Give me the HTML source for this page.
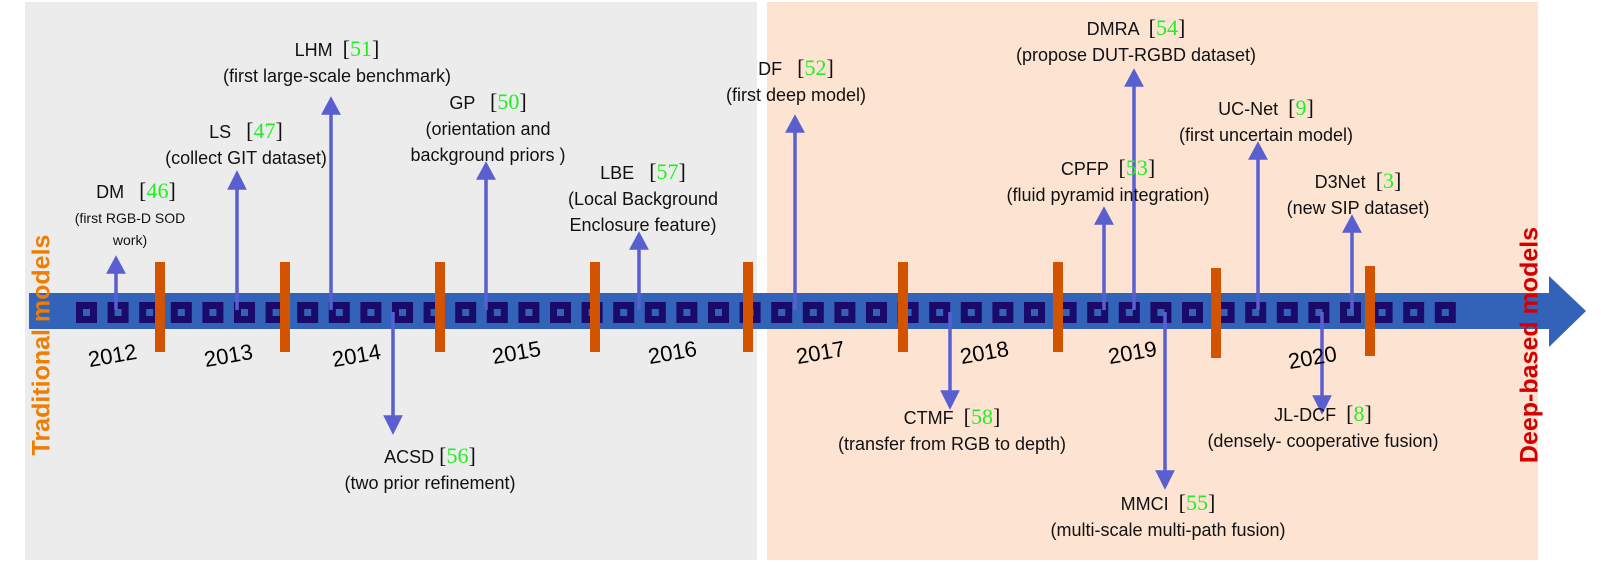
<!DOCTYPE html>
<html><head><meta charset="utf-8"><style>
html,body{margin:0;padding:0;overflow:hidden;width:1601px;height:581px}
#w{position:relative;width:1601px;height:581px;overflow:hidden;background:#fff;font-family:"Liberation Sans",sans-serif;}
.a{position:absolute}
.t{position:absolute;transform:translateX(-50%);text-align:center;white-space:nowrap;font-size:18px;line-height:26px;color:#111}
.c{font-family:"Liberation Serif",serif;font-size:22px;color:#111}
.c b{font-weight:normal;color:#22ee22}
.y{position:absolute;font-size:22px;transform:rotate(-10deg);color:#000}
</style></head><body><div id="w">
<div class="a" style="left:25px;top:2px;width:732px;height:558px;background:#ececec"></div>
<div class="a" style="left:767px;top:2px;width:771px;height:558px;background:#fde4d2"></div>
<svg class="a" style="left:0;top:0" width="1601" height="581">
<rect x="29" y="293" width="1522" height="36" fill="#3363b9"/>
<polygon points="1549,276 1586,311 1549,347" fill="#3363b9"/>
<g id="sq"></g>
<g fill="#d35400">
<rect x="155" y="262" width="10" height="90"/><rect x="280" y="262" width="10" height="90"/><rect x="435" y="262" width="10" height="90"/><rect x="590" y="262" width="10" height="90"/><rect x="743" y="262" width="10" height="90"/><rect x="898" y="262" width="10" height="90"/><rect x="1053" y="262" width="10" height="90"/><rect x="1211" y="268" width="10" height="90"/><rect x="1365" y="266" width="10" height="90"/>
</g>
<g stroke="#5a5fcf" stroke-width="3.5" fill="#5a5fcf">
<line x1="116" y1="310" x2="116" y2="270"/><polygon points="109,272 116,259 123,272"/>
<line x1="237" y1="310" x2="237" y2="185"/><polygon points="230,188 237,174 244,188"/>
<line x1="331" y1="310" x2="331" y2="110"/><polygon points="324,113 331,100 338,113"/>
<line x1="486" y1="310" x2="486" y2="175"/><polygon points="479,178 486,165 493,178"/>
<line x1="639" y1="310" x2="639" y2="245"/><polygon points="632,248 639,235 646,248"/>
<line x1="795" y1="310" x2="795" y2="128"/><polygon points="788,131 795,118 802,131"/>
<line x1="1104" y1="310" x2="1104" y2="220"/><polygon points="1097,223 1104,210 1111,223"/>
<line x1="1134" y1="310" x2="1134" y2="82"/><polygon points="1127,85 1134,72 1141,85"/>
<line x1="1258" y1="310" x2="1258" y2="155"/><polygon points="1251,158 1258,145 1265,158"/>
<line x1="1352" y1="310" x2="1352" y2="228"/><polygon points="1345,231 1352,218 1359,231"/>
<line x1="393" y1="312" x2="393" y2="420"/><polygon points="386,417 393,431 400,417"/>
<line x1="950" y1="312" x2="950" y2="395"/><polygon points="943,392 950,406 957,392"/>
<line x1="1165" y1="312" x2="1165" y2="475"/><polygon points="1158,472 1165,486 1172,472"/>
<line x1="1322" y1="312" x2="1322" y2="400"/><polygon points="1315,397 1322,411 1329,397"/>
</g>
</svg>
<script>
var g=document.getElementById('sq'),s='';
for(var i=0;i<44;i++){var x=76+i*31.6;s+='<rect x="'+(x+3.5)+'" y="305.5" width="14" height="14" fill="#3363b9" stroke="#1a0a6a" stroke-width="7"/>';}
g.innerHTML=s;
</script>
<div class="y" style="left:88px;top:343px">2012</div>
<div class="y" style="left:204px;top:343px">2013</div>
<div class="y" style="left:332px;top:343px">2014</div>
<div class="y" style="left:492px;top:340px">2015</div>
<div class="y" style="left:648px;top:340px">2016</div>
<div class="y" style="left:796px;top:340px">2017</div>
<div class="y" style="left:960px;top:340px">2018</div>
<div class="y" style="left:1108px;top:340px">2019</div>
<div class="y" style="left:1288px;top:345px">2020</div>

<div class="a" style="left:42px;top:345px;width:0;height:0"><div style="position:absolute;left:0;top:0;transform:translate(-50%,-50%) rotate(-90deg);font-size:25px;font-weight:bold;color:#ef7d00;white-space:nowrap">Traditional models</div></div>
<div class="a" style="left:1530px;top:345px;width:0;height:0"><div style="position:absolute;left:0;top:0;transform:translate(-50%,-50%) rotate(-90deg);font-size:25px;font-weight:bold;color:#d40000;white-space:nowrap">Deep-based models</div></div>

<div class="t" style="left:136px;top:178px">DM &nbsp;&nbsp;<span class="c">[<b>46</b>]</span></div>
<div class="t" style="left:130px;top:207px;font-size:14px;line-height:22px">(first RGB-D SOD<br>work)</div>
<div class="t" style="left:246px;top:118px">LS &nbsp;&nbsp;<span class="c">[<b>47</b>]</span><br>(collect GIT dataset)</div>
<div class="t" style="left:337px;top:36px">LHM &nbsp;<span class="c">[<b>51</b>]</span><br>(first large-scale benchmark)</div>
<div class="t" style="left:488px;top:89px">GP &nbsp;&nbsp;<span class="c">[<b>50</b>]</span><br>(orientation and<br>background priors )</div>
<div class="t" style="left:643px;top:159px">LBE &nbsp;&nbsp;<span class="c">[<b>57</b>]</span><br>(Local Background<br>Enclosure feature)</div>
<div class="t" style="left:796px;top:55px">DF &nbsp;&nbsp;<span class="c">[<b>52</b>]</span><br>(first deep model)</div>
<div class="t" style="left:1136px;top:15px">DMRA &nbsp;<span class="c">[<b>54</b>]</span><br>(propose DUT-RGBD dataset)</div>
<div class="t" style="left:1266px;top:95px">UC-Net &nbsp;<span class="c">[<b>9</b>]</span><br>(first uncertain model)</div>
<div class="t" style="left:1108px;top:155px">CPFP &nbsp;<span class="c">[<b>53</b>]</span><br>(fluid pyramid integration)</div>
<div class="t" style="left:1358px;top:168px">D3Net &nbsp;<span class="c">[<b>3</b>]</span><br>(new SIP dataset)</div>
<div class="t" style="left:430px;top:443px">ACSD <span class="c">[<b>56</b>]</span><br>(two prior refinement)</div>
<div class="t" style="left:952px;top:404px">CTMF &nbsp;<span class="c">[<b>58</b>]</span><br>(transfer from RGB to depth)</div>
<div class="t" style="left:1323px;top:401px">JL-DCF &nbsp;<span class="c">[<b>8</b>]</span><br>(densely- cooperative fusion)</div>
<div class="t" style="left:1168px;top:490px">MMCI &nbsp;<span class="c">[<b>55</b>]</span><br>(multi-scale multi-path fusion)</div>
</div></body></html>
